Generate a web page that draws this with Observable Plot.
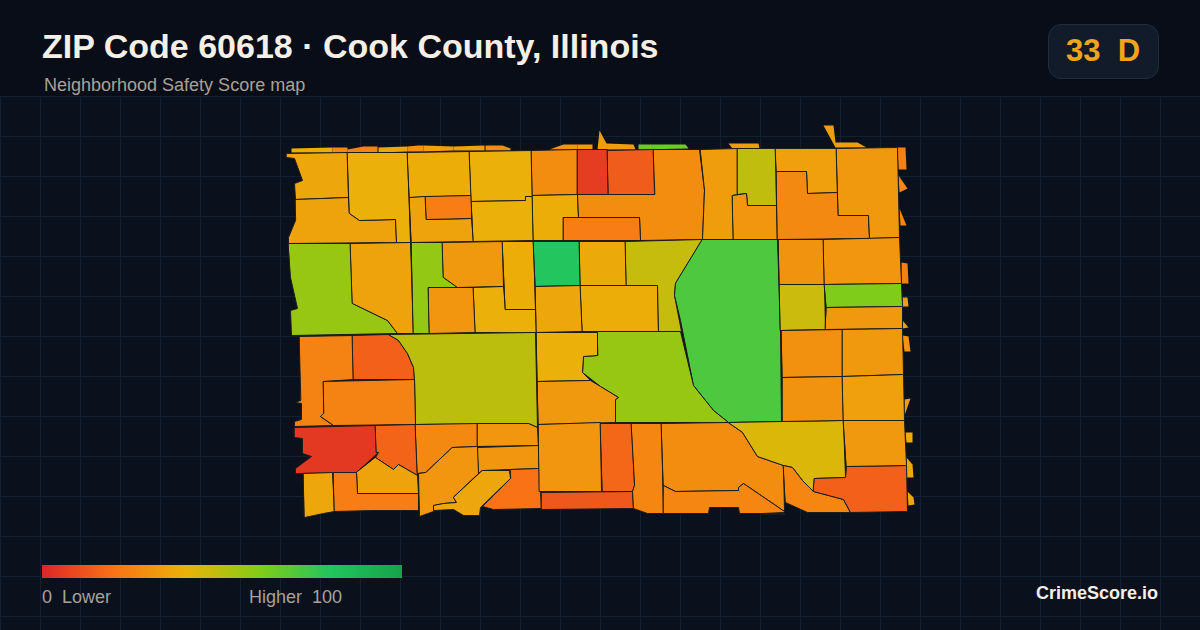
<!DOCTYPE html>
<html><head><meta charset="utf-8">
<script src="https://cdn.jsdelivr.net/npm/d3@7"></script>
<script src="https://cdn.jsdelivr.net/npm/@observablehq/plot@0.6"></script>
<style>
html,body{margin:0;padding:0;background:#0a111d;}
#page{position:relative;width:1200px;height:630px;overflow:hidden;background:#0a111d;font-family:"Liberation Sans",Arial,sans-serif;}
#grid{position:absolute;left:0;top:96px;width:1200px;height:534px;
background-image:linear-gradient(#142030 1px,transparent 1px),linear-gradient(90deg,#142030 1px,transparent 1px);background-size:40px 40px;}
#head{position:absolute;left:0;top:0;width:1200px;height:96px;background:#080d18;}
#map{position:absolute;left:0;top:0;}
.t{position:absolute;white-space:pre;}
#title{left:42px;top:26px;font-size:34px;font-weight:700;color:#f5efe6;line-height:40px;}
#sub{left:44px;top:75px;font-size:18px;color:#a8a296;line-height:20px;}
#badge{position:absolute;left:1048px;top:24px;width:109px;height:53px;border:1px solid #202c3c;border-radius:13px;background:#111b29;}
#score{left:1066px;top:32px;font-size:31px;font-weight:700;color:#f0a417;line-height:38px;}
#bar{position:absolute;left:42px;top:565px;width:360px;height:13px;}
#l0{left:42px;top:587px;font-size:18px;color:#a8a296;line-height:20px;}
#l1{left:249px;top:587px;font-size:18px;color:#a8a296;line-height:20px;}
#brand{right:42px;top:583px;font-size:18px;font-weight:700;color:#f5efe6;line-height:20px;}
</style></head>
<body><div id="page">
<div id="grid"></div><div id="head"></div>
<div id="map"></div>
<div class="t" id="title">ZIP Code 60618 · Cook County, Illinois</div>
<div class="t" id="sub">Neighborhood Safety Score map</div>
<div id="badge"></div><div class="t" id="score">33  D</div>
<div id="bar"></div>
<div class="t" id="l0">0  Lower</div><div class="t" id="l1">Higher  100</div>
<div class="t" id="brand">CrimeScore.io</div>
</div>
<script>
const rampStops=[0,20,40,60,80,100];
const rampColors=["#dc2626","#f97316","#eab308","#84cc16","#22c55e","#16a34a"];
const fragmentCount=25;
const scores=[38,27,25,36,30,34,34,28,31,33,33,65,33,33,24,26,26,24,33,33,31,33,38,36,36,
36,35,39,38,35,23,39,39,28,38,6,14,28,23,33,48,31,34,27,32,
56,35,57,32,31,39,38,80,36,37,38,47,71,56,39,32,
25,15,49,25,5,16,35,36,23,27,31,31,31,36,20,31,13,17,26,28,26,60,43,26,15,32,
30,31,46,61,32,29,32,30,34];
const outlines=[
[[291,148],[332,147],[332,152],[291,152]],
[[332,147],[347,147],[347,152],[332,152]],
[[347,149],[363,146],[377,146],[377,152],[347,152]],
[[378,147],[407,146],[407,151],[378,152]],
[[407,146],[418,145],[423,145],[423,151],[407,151]],
[[423,145],[453,146],[453,150],[423,151]],
[[453,146],[484,145],[484,150],[453,150]],
[[485,145],[502,145],[510,148],[510,150],[485,150]],
[[549,149],[563,144],[577,144],[577,149]],
[[577,144],[592,144],[592,149],[577,149]],
[[597,149],[599,130],[606,143],[633,144],[635,149]],
[[638,144],[685,144],[688,148],[638,149]],
[[728,143],[758,143],[759,148],[732,148]],
[[823,125],[833,125],[835,142],[857,142],[866,147],[835,147]],
[[897,147],[905,147],[906,169],[898,169]],
[[898,175],[907,188],[899,192]],
[[899,208],[906,225],[900,225]],
[[901,262],[907,263],[908,283],[901,283]],
[[902,297],[907,297],[908,306],[902,306]],
[[902,320],[908,327],[902,328]],
[[902,335],[908,336],[910,351],[904,351]],
[[904,399],[910,398],[904,415]],
[[905,432],[912,432],[912,442],[906,442]],
[[906,457],[912,464],[913,477],[906,477]],
[[907,491],[913,497],[914,504],[908,505]],
[[286,153],[347,152],[348,197],[295,199],[294,183],[302,180],[294,158],[286,157]],
[[295,199],[348,197],[349,213],[359,220],[395,219],[396,242],[288,243],[288,237],[295,220]],
[[347,152],[407,152],[410,242],[396,242],[395,219],[359,220],[349,213]],
[[407,152],[469,151],[471,195],[409,197]],
[[409,197],[425,196],[426,219],[471,218],[473,241],[411,242]],
[[425,196],[471,195],[471,218],[426,219]],
[[469,151],[531,150],[532,196],[525,196],[525,200],[471,201]],
[[471,201],[525,200],[525,196],[532,196],[533,240],[473,241]],
[[531,150],[577,149],[577,194],[532,195]],
[[532,195],[577,194],[578,217],[563,217],[563,240],[533,240]],
[[577,149],[607,149],[608,194],[577,194]],
[[607,150],[653,149],[654,194],[608,194]],
[[653,149],[699,149],[704,190],[702,239],[640,240],[639,217],[578,217],[577,194],[654,194]],
[[563,217],[639,217],[640,240],[563,240]],
[[700,149],[737,148],[737,194],[732,195],[733,239],[702,239],[704,190]],
[[737,148],[775,148],[776,205],[747,205],[746,193],[737,194]],
[[732,195],[746,193],[747,205],[776,205],[777,239],[733,239]],
[[775,148],[836,148],[837,192],[807,193],[806,171],[776,171]],
[[776,171],[806,171],[807,193],[837,192],[838,215],[868,215],[869,238],[777,239]],
[[836,148],[897,147],[899,237],[869,238],[868,215],[838,215]],
[[288,243],[350,243],[352,303],[387,320],[397,333],[291,335],[290,310],[297,308],[290,277]],
[[350,243],[410,242],[413,333],[397,333],[387,320],[352,303]],
[[411,242],[442,242],[443,277],[457,287],[428,287],[429,333],[413,333]],
[[442,242],[502,241],[503,286],[457,287],[443,277]],
[[428,287],[473,287],[475,332],[429,333]],
[[473,287],[503,286],[505,309],[535,309],[536,332],[475,332]],
[[502,241],[533,241],[535,309],[505,309]],
[[533,241],[579,241],[580,285],[535,286]],
[[535,286],[580,285],[582,331],[536,332]],
[[579,241],[625,241],[626,285],[580,285]],
[[580,285],[657,285],[658,331],[582,331]],
[[625,241],[702,239],[675,283],[674,295],[681,331],[658,331],[657,285],[626,285]],
[[702,239],[777,239],[780,330],[781,421],[728,422],[713,410],[693,385],[680,320],[674,295],[675,283]],
[[597,331],[680,331],[693,385],[713,410],[728,422],[615,422],[615,399],[618,397],[600,386],[582,372],[583,356],[597,355]],
[[536,332],[597,332],[597,355],[583,356],[582,372],[590,380],[537,381]],
[[537,381],[590,380],[600,386],[618,397],[615,399],[615,422],[538,424]],
[[299,336],[352,335],[353,379],[323,381],[323,413],[320,416],[333,425],[294,426],[294,421],[301,419],[301,403],[295,402],[300,400]],
[[352,335],[388,334],[398,340],[407,353],[413,367],[414,379],[353,379]],
[[388,334],[535,332],[537,427],[528,423],[415,424],[414,379],[413,367],[407,353],[398,340]],
[[323,381],[414,379],[415,424],[333,425],[320,416],[323,413]],
[[294,427],[375,425],[376,452],[378,452],[356,472],[295,473],[295,468],[311,456],[302,453],[302,438],[294,437]],
[[375,425],[415,424],[417,475],[398,464],[393,469],[375,457],[378,452],[376,452]],
[[375,457],[393,469],[398,464],[417,475],[418,493],[357,493],[356,472]],
[[303,473],[332,472],[334,511],[323,513],[304,517]],
[[333,472],[356,472],[357,493],[418,493],[418,510],[373,510],[334,511]],
[[415,424],[477,423],[477,446],[452,447],[425,472],[417,473]],
[[477,423],[528,423],[537,427],[538,445],[477,446]],
[[477,447],[538,445],[539,468],[510,469],[482,470],[478,473]],
[[452,447],[477,446],[478,473],[453,497],[456,502],[443,503],[433,505],[433,511],[419,516],[418,473],[425,472]],
[[482,470],[509,470],[510,478],[480,507],[479,515],[463,515],[453,509],[433,510],[433,505],[443,503],[456,502],[453,497]],
[[510,469],[539,468],[541,508],[493,509],[482,506],[510,478]],
[[538,424],[600,422],[601,491],[539,491]],
[[541,492],[632,491],[633,508],[541,509]],
[[600,423],[631,423],[634,485],[632,491],[602,491]],
[[631,423],[661,423],[663,513],[647,513],[633,508],[632,491],[634,485]],
[[661,423],[728,422],[742,432],[757,456],[783,465],[784,511],[743,483],[738,487],[738,490],[675,491],[663,485]],
[[663,485],[675,491],[738,490],[738,487],[743,483],[784,511],[783,512],[762,513],[739,513],[738,507],[709,507],[708,513],[663,513]],
[[762,513],[784,513],[784,514],[762,514]],
[[728,422],[781,421],[843,420],[845,477],[814,478],[813,491],[802,480],[792,467],[783,465],[757,456],[742,432]],
[[783,465],[792,467],[802,480],[813,491],[843,499],[850,512],[807,512],[785,502]],
[[814,478],[845,477],[846,466],[906,465],[907,511],[850,512],[843,499],[813,491]],
[[843,420],[904,420],[906,465],[846,466]],
[[778,239],[823,239],[824,284],[779,284]],
[[823,239],[899,237],[901,283],[824,284]],
[[779,284],[824,284],[825,329],[780,330]],
[[824,284],[901,283],[902,306],[826,307]],
[[826,307],[902,306],[902,328],[825,329]],
[[781,330],[842,329],[842,376],[782,377]],
[[842,329],[902,328],[903,374],[842,376]],
[[782,377],[842,376],[843,420],[782,421]],
[[842,376],[903,374],[904,420],[843,420]]
];
const tracts=outlines.map((ring,i)=>({type:"Feature",properties:{score:scores[i]},
  geometry:{type:"Polygon",coordinates:[[...ring,ring[0]]]}}));
const chart=Plot.plot({
  width:1200,height:630,margin:0,
  style:{background:"transparent"},
  projection:d3.geoIdentity(),
  color:{type:"linear",domain:rampStops,range:rampColors},
  marks:[
    Plot.geo(tracts.slice(0,fragmentCount),{fill:d=>d.properties.score}),
    Plot.geo(tracts.slice(fragmentCount),{fill:d=>d.properties.score,stroke:"#1c1c1c",strokeWidth:1,strokeLinejoin:"round"})
  ]
});
document.getElementById("map").appendChild(chart);
document.getElementById("bar").style.background="linear-gradient(90deg,"+rampColors.map((c,i)=>c+" "+rampStops[i]+"%").join(",")+")";
</script>
</body></html>
